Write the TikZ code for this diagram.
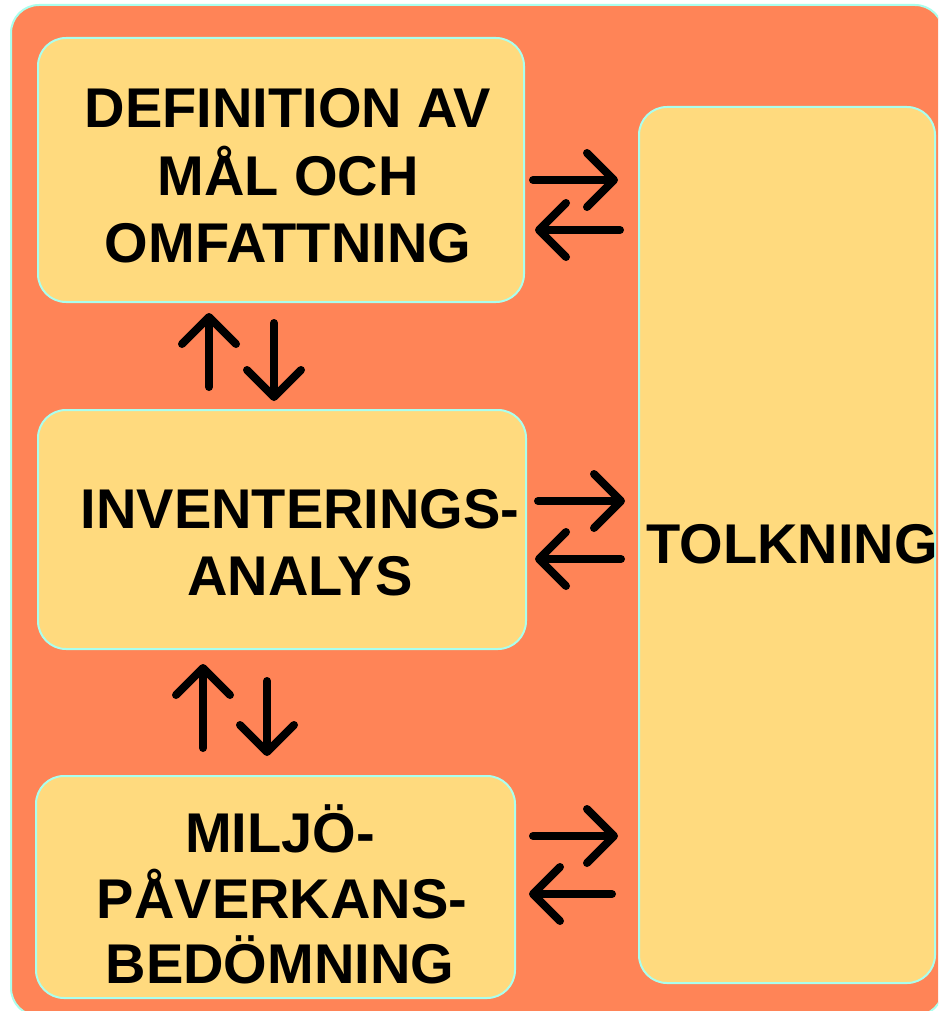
\documentclass[tikz,border=0pt]{standalone}
\usepackage{fontspec}
\setmainfont{Liberation Sans}
\usetikzlibrary{arrows.meta}
\definecolor{bgorange}{RGB}{255,132,87}
\definecolor{boxyellow}{RGB}{255,218,126}
\definecolor{edgecyan}{RGB}{170,255,238}
\begin{document}
\begin{tikzpicture}[x=1pt,y=-1pt,
  panel/.style={draw=edgecyan, line width=2pt, fill=boxyellow, rounded corners=28pt, inner sep=0pt, outer sep=0pt},
  lbl/.style={font=\fontsize{56}{67}\selectfont\bfseries, inner sep=0pt, anchor=base},
  flow/.style={line width=8pt, line cap=round, -{Straight Barb[length=27pt,width=54pt,round]}}]
\useasboundingbox (0,0) rectangle (938,1011);
\begin{scope}
\clip (0,0) rectangle (938,1011);
\fill[white] (0,0) rectangle (938,1011);
\draw[draw=edgecyan, line width=2pt, fill=bgorange, rounded corners=28pt] (11,5) rectangle (943,1016);
% boxes
\node[panel, minimum width=486pt, minimum height=264pt] (def) at (281,170) {};
\node[panel, minimum width=488pt, minimum height=239pt] (inv) at (282,529.5) {};
\node[panel, minimum width=479pt, minimum height=222pt] (mil) at (275.5,887) {};
\node[panel, minimum width=296pt, minimum height=876pt] (tolkbox) at (787,545) {};
% labels
\node[lbl] (def1) at (288,128) {DEFINITION AV};
\node[lbl] (def2) at (288,196) {MÅL OCH};
\node[lbl] (def3) at (288,262) {OMFATTNING};
\node[lbl] (inv1) at (300,528) {INVENTERINGS-};
\node[lbl] (inv2) at (300,595) {ANALYS};
\node[lbl] (mil1) at (280,852) {MILJÖ-};
\node[lbl] (mil2) at (282,918) {PÅVERKANS-};
\node[lbl] (mil3) at (280,983) {BEDÖMNING};
\node[lbl] (tolk) at (792,563) {TOLKNING};
% arrow end points
\coordinate (r1s) at (533,180); \coordinate (r1e) at (618,180);
\coordinate (l1s) at (620,230); \coordinate (l1e) at (535,230);
\coordinate (r2s) at (538,501); \coordinate (r2e) at (625,501);
\coordinate (l2s) at (621,559); \coordinate (l2e) at (535,559);
\coordinate (r3s) at (533,836); \coordinate (r3e) at (618,836);
\coordinate (l3s) at (612,894); \coordinate (l3e) at (529,894);
\coordinate (u1s) at (209,387); \coordinate (u1e) at (209,313);
\coordinate (d1s) at (274,323); \coordinate (d1e) at (274,401);
\coordinate (u2s) at (203,748); \coordinate (u2e) at (203,664);
\coordinate (d2s) at (267,681); \coordinate (d2e) at (267,756);
\draw[flow] (r1s) -- (r1e);
\draw[flow] (l1s) -- (l1e);
\draw[flow] (r2s) -- (r2e);
\draw[flow] (l2s) -- (l2e);
\draw[flow] (r3s) -- (r3e);
\draw[flow] (l3s) -- (l3e);
\draw[flow] (u1s) -- (u1e);
\draw[flow] (d1s) -- (d1e);
\draw[flow] (u2s) -- (u2e);
\draw[flow] (d2s) -- (d2e);
\end{scope}
\end{tikzpicture}
\end{document}
